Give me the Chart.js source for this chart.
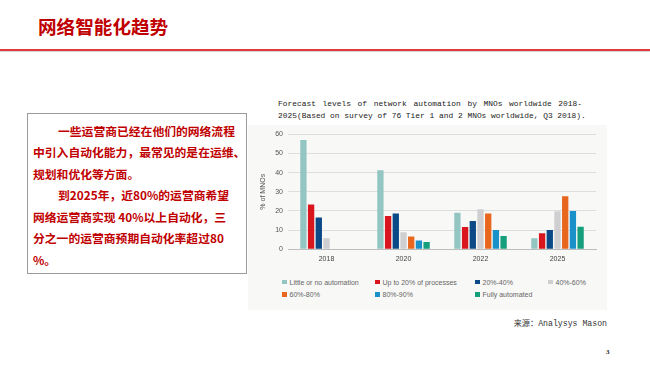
<!DOCTYPE html>
<html>
<head>
<meta charset="utf-8">
<script src="https://cdn.jsdelivr.net/npm/chart.js@4.4.0/dist/chart.umd.min.js"></script>
<style>
  body { margin: 0; width: 650px; height: 365px; background: #fff; position: relative; overflow: hidden; font-family: "Noto Sans CJK SC", sans-serif; }
  .title { position: absolute; left: 38px; top: 13px; font-size: 18.6px; font-weight: bold; color: #c00000; line-height: 26px; white-space: nowrap; }
  .rule { position: absolute; left: 0; top: 49px; width: 650px; height: 0; border-top: 2px solid #e23a3a; box-shadow: 0 1px 1px rgba(0,0,0,0.18); }
  .textbox { position: absolute; left: 27px; top: 113px; width: 218px; height: 159px; border: 1px solid #9a9a9a; }
  .textbox div { position: absolute; left: 5px; font-size: 11.8px; font-weight: bold; color: #c00000; line-height: 16px; white-space: nowrap; }
  .panel { position: absolute; left: 248px; top: 125px; width: 359px; height: 185px; background: #f8f8f6; }
  .caption { position: absolute; left: 278px; font-family: "Liberation Mono", monospace; font-size: 7.9px; color: #222; line-height: 10px; white-space: nowrap; }
  .caption.just { width: 304px; white-space: normal; text-align: justify; text-align-last: justify; }
  #chartWrap { position: absolute; left: 248px; top: 125px; width: 359px; height: 145px; }
  #legend { position: absolute; left: 282px; top: 276px; display: grid; grid-template-columns: 93px 100px 73px auto; grid-auto-rows: 12.4px; font-family: "Liberation Sans", sans-serif; font-size: 7px; color: #666; }
  #legend span.item { display: flex; align-items: center; white-space: nowrap; }
  #legend span.box { display: inline-block; width: 4.5px; height: 4.5px; margin-right: 3px; }
  .source { position: absolute; right: 43px; top: 316px; font-family: "Liberation Mono", "Noto Sans CJK SC", monospace; font-size: 8.2px; color: #333; white-space: nowrap; }
  .page { position: absolute; left: 606px; top: 348px; font-family: "Liberation Serif", serif; font-size: 7px; font-weight: bold; color: #222; }
</style>
</head>
<body>
<div class="title">网络智能化趋势</div>
<div class="rule"></div>

<div class="textbox">
  <div style="top:9px; left:30px;">一些运营商已经在他们的网络流程</div>
  <div style="top:30px;">中引入自动化能力，最常见的是在运维、</div>
  <div style="top:52px;">规划和优化等方面。</div>
  <div style="top:73px; left:30px;">到2025年，近80%的运营商希望</div>
  <div style="top:95px;">网络运营商实现 40%以上自动化，三</div>
  <div style="top:116px;">分之一的运营商预期自动化率超过80</div>
  <div style="top:138px;">%。</div>
</div>

<div class="caption just" style="top:99px;">Forecast levels of network automation by MNOs worldwide 2018-</div>
<div class="caption" style="top:110.5px;">2025(Based on survey of 76 Tier 1 and 2 MNOs worldwide, Q3 2018).</div>

<div class="panel"></div>
<div id="chartWrap"><canvas id="myChart"></canvas></div>
<div id="legend"></div>

<div class="source">来源：Analysys Mason</div>
<div class="page">3</div>

<script>
const years = ['2018', '2020', '2022', '2025'];
const seriesNames = ['Little or no automation', 'Up to 20% of processes', '20%-40%', '40%-60%', '60%-80%', '80%-90%', 'Fully automated'];
const seriesColors = ['#93c5c3', '#d9161e', '#0b4a86', '#cfcfd1', '#e8661d', '#1b91c9', '#169f7d'];

const littleOrNone = [57, 41.2, 19, 5.7];
const upTo20 = [23.4, 17.3, 11.6, 8.4];
const from20to40 = [16.6, 18.7, 14.8, 10];
const from40to60 = [5.7, 8.9, 20.9, 19.9];
const from60to80 = [null, 6.7, 18.7, 27.7];
const from80to90 = [null, 4.6, 10, 20];
const fullyAutomated = [null, 3.8, 6.9, 11.8];

const yTicks = [0, 10, 20, 30, 40, 50, 60];

const seriesValues = [littleOrNone, upTo20, from20to40, from40to60, from60to80, from80to90, fullyAutomated];

const htmlLegend = {
  id: 'htmlLegend',
  afterUpdate(chart) {
    const box = document.getElementById('legend');
    box.innerHTML = '';
    const items = chart.options.plugins.legend.labels.generateLabels(chart);
    items.forEach((item, i) => {
      const el = document.createElement('span');
      el.className = 'item';
      // second row starts again under the first column
      if (i === 4) el.style.gridColumn = '1';
      const sw = document.createElement('span');
      sw.className = 'box';
      sw.style.background = item.fillStyle;
      el.appendChild(sw);
      el.appendChild(document.createTextNode(item.text));
      box.appendChild(el);
    });
  }
};

const ctx = document.getElementById('myChart').getContext('2d');
new Chart(ctx, {
  type: 'bar',
  data: {
    labels: years,
    datasets: seriesNames.map((name, i) => ({
      label: name,
      data: seriesValues[i],
      backgroundColor: seriesColors[i],
      borderWidth: 0,
      categoryPercentage: 0.7,
      barPercentage: 0.82
    }))
  },
  options: {
    responsive: true,
    maintainAspectRatio: false,
    animation: false,
    layout: { padding: { top: 9, right: 11, bottom: 0, left: 0 } },
    plugins: {
      legend: { display: false },
      tooltip: { enabled: false }
    },
    scales: {
      x: {
        grid: { display: false, drawTicks: false },
        border: { display: true, color: '#bdbdbd', width: 1 },
        ticks: { color: '#444', font: { family: 'Liberation Sans', size: 7 }, padding: 6 },
        afterFit: (scale) => { scale.height = 20.7; }
      },
      y: {
        min: 0,
        max: 60,
        afterBuildTicks: (scale) => { scale.ticks = yTicks.map(v => ({ value: v })); },
        grid: { color: '#dedede', drawTicks: false },
        border: { display: false },
        ticks: { color: '#555', font: { family: 'Liberation Sans', size: 7 }, padding: 5 },
        title: {
          display: true,
          text: '% of MNOs',
          color: '#555',
          font: { family: 'Liberation Sans', size: 7 },
          padding: { top: 11, bottom: 0 }
        },
        afterFit: (scale) => { scale.width = 40; }
      }
    }
  },
  plugins: [htmlLegend]
});
</script>
</body>
</html>
